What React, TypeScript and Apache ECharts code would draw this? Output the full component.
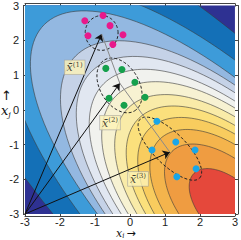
import React, { useEffect, useRef } from "react";
import * as echarts from "echarts";

// axis ticks
const tickValues = [-3, -2, -1, 0, 1, 2, 3];

// contour boundaries (outer -> inner): x where each boundary crosses the anti-diagonal y=-x,
// and x where it crosses the bottom edge y=-3
const levelDiag = [-5.3, -3.04, -2.45, -1.55, -1.1, -0.75, -0.4, -0.05, 0.25, 0.55, 0.85, 1.2, 1.83];
const levelBottom = [-2.2, -1.43, -0.93, -0.71, -0.49, -0.25, -0.05, 0.2, 0.45, 0.7, 1.0, 1.4, 1.97];
const peak = [2.9, -2.9];
const bandColors = [
  "#2e3192", "#1470b7", "#3d9bd9", "#93b8e1", "#c5d2e7", "#e1e7f1", "#f1f2ee",
  "#f7f2d2", "#f9eba8", "#fbe07c", "#f8cc5e", "#f4b44c", "#ef9c41", "#e5483b",
];

// samples
const magentaX = [-1.29, -0.77, -0.57, -1.2, -0.2, -0.49];
const magentaY = [2.56, 2.71, 2.42, 2.13, 2.16, 1.88];
const greenX = [-0.69, -0.23, 0.14, -0.6, -0.17, 0.43];
const greenY = [1.19, 1.16, 0.79, 0.33, 0.13, 0.36];
const cyanX = [0.77, 1.31, 0.63, 1.86, 1.89, 1.34];
const cyanY = [-0.33, -0.93, -1.16, -1.16, -1.7, -1.93];

// means
const meanX = [-0.81, -0.29, 1.14];
const meanY = [2.18, 0.76, -1.22];
const arrowStart = [-3, -3];

// dashed ellipses: centre, semi-axes, rotation (deg)
const ellCX = [-0.81, -0.3, 1.14];
const ellCY = [2.21, 0.7, -1.12];
const ellRA = [0.47, 0.85, 1.2];
const ellRB = [0.5, 0.56, 0.46];
const ellRot = [0, -60, -45];

// label positions
const labelX = [-1.58, -0.57, 0.23];
const labelY = [1.22, -0.37, -1.99];
const labelText = ["(1)", "(2)", "(3)"];

const SQ = Math.SQRT2;

function levelShape(k: number) {
  const A = Math.hypot(peak[0] - levelDiag[k], peak[1] + levelDiag[k]);
  const dx = levelBottom[k] - peak[0];
  const dy = -3 - peak[1];
  const u = (-dx + dy) / SQ;
  const v = (dx + dy) / SQ;
  const B = Math.abs(v) / Math.sqrt(Math.max(0.05, 1 - (u / A) * (u / A)));
  return { A, B };
}

export default function App() {
  const ref = useRef<HTMLDivElement>(null);
  useEffect(() => {
    const chart = echarts.init(ref.current!, null, { renderer: "svg" });
    const axisColor = "#444";
    const mkX = (pos: "bottom" | "top", labels: boolean) => ({
      type: "value",
      min: tickValues[0],
      max: tickValues[tickValues.length - 1],
      interval: 1,
      position: pos,
      offset: 2,
      axisLine: { show: true, onZero: false, lineStyle: { color: axisColor, width: 1 } },
      axisTick: { show: true, inside: true, length: 3, lineStyle: { color: axisColor } },
      axisLabel: {
        show: labels,
        fontSize: 11,
        lineHeight: 10,
        color: "#222",
        margin: 1,
        fontFamily: "Liberation Sans",
      },
      splitLine: { show: false },
    });
    const mkY = (pos: "left" | "right", labels: boolean) => ({
      type: "value",
      min: tickValues[0],
      max: tickValues[tickValues.length - 1],
      interval: 1,
      position: pos,
      offset: pos === "left" ? 2 : 3,
      axisLine: { show: true, onZero: false, lineStyle: { color: axisColor, width: 1 } },
      axisTick: { show: true, inside: true, length: 3, lineStyle: { color: axisColor } },
      axisLabel: {
        show: labels,
        fontSize: 11,
        color: "#222",
        margin: 4,
        fontFamily: "Liberation Sans",
      },
      splitLine: { show: false },
    });

    const contourData = levelDiag.map((_, k) => [0, 0, k]);
    const ellData = ellCX.map((_, i) => [ellCX[i], ellCY[i], i]);

    const option: any = {
      animation: false,
      grid: {
        left: 25,
        top: 5,
        width: 210,
        height: 209,
        show: true,
        backgroundColor: bandColors[0],
        borderWidth: 0,
      },
      xAxis: [mkX("bottom", true), mkX("top", false)],
      yAxis: [mkY("left", true), mkY("right", false)],
      series: [
        {
          type: "custom",
          clip: true,
          silent: true,
          data: contourData,
          renderItem: (params: any, api: any) => {
            const k = api.value(2);
            const { A, B } = levelShape(k);
            const pts: number[][] = [];
            const n = 160;
            for (let i = 0; i < n; i++) {
              const s = (i / n) * Math.PI * 2;
              const a = A * Math.cos(s);
              const b = B * Math.sin(s);
              const x = peak[0] + (-a + b) / SQ;
              const y = peak[1] + (a + b) / SQ;
              pts.push(api.coord([x, y]));
            }
            return {
              type: "polygon",
              shape: { points: pts },
              style: { fill: bandColors[k + 1], stroke: "#3a3a3a", lineWidth: 0.6 },
            };
          },
        },
        {
          type: "custom",
          silent: true,
          data: ellData,
          renderItem: (params: any, api: any) => {
            const i = api.value(2);
            const rot = (ellRot[i] * Math.PI) / 180;
            const pts: number[][] = [];
            const n = 80;
            for (let j = 0; j <= n; j++) {
              const s = (j / n) * Math.PI * 2;
              const a = ellRA[i] * Math.cos(s);
              const b = ellRB[i] * Math.sin(s);
              const x = ellCX[i] + a * Math.cos(rot) - b * Math.sin(rot);
              const y = ellCY[i] + a * Math.sin(rot) + b * Math.cos(rot);
              pts.push(api.coord([x, y]));
            }
            return {
              type: "polyline",
              shape: { points: pts },
              style: { stroke: "#222", lineWidth: 1, lineDash: [3, 2], fill: "none" },
            };
          },
        },
        {
          type: "line",
          data: meanX.map((x, i) => [x, meanY[i]]),
          symbol: "none",
          lineStyle: { color: "#8a8a8a", width: 1 },
          silent: true,
        },
        {
          type: "lines",
          coordinateSystem: "cartesian2d",
          symbol: ["none", "arrow"],
          symbolSize: 7,
          lineStyle: { color: "#111", width: 1, opacity: 1 },
          silent: true,
          data: meanX.map((x, i) => ({ coords: [arrowStart, [x, meanY[i]]] })),
        },
        {
          type: "scatter",
          symbolSize: 7,
          itemStyle: { color: "#e8198b", opacity: 1 },
          data: magentaX.map((x, i) => [x, magentaY[i]]),
          silent: true,
        },
        {
          type: "scatter",
          symbolSize: 7,
          itemStyle: { color: "#15a04c", opacity: 1 },
          data: greenX.map((x, i) => [x, greenY[i]]),
          silent: true,
        },
        {
          type: "scatter",
          symbolSize: 7,
          itemStyle: { color: "#1aa6e8", opacity: 1 },
          data: cyanX.map((x, i) => [x, cyanY[i]]),
          silent: true,
        },
        {
          type: "scatter",
          symbolSize: 2,
          itemStyle: { color: "rgba(0,0,0,0)" },
          silent: true,
          z: 10,
          data: labelX.map((x, i) => ({ value: [x, labelY[i]], name: labelText[i] })),
          label: {
            show: true,
            position: "inside",
            formatter: (p: any) => "{m|x\u0304}{s|" + p.name + "}",
            backgroundColor: "#fcf3b6",
            borderColor: "#a0a0a0",
            borderWidth: 0.6,
            padding: [1, 2, 0, 2],
            rich: {
              m: { fontFamily: "DejaVu Serif", fontStyle: "italic", fontSize: 11, color: "#111" },
              s: { fontFamily: "DejaVu Serif", fontSize: 7, color: "#111", verticalAlign: "top", padding: [0, 0, 6, 0] },
            },
          },
        },
      ],
      graphic: [
        {
          type: "text",
          left: 116,
          top: 228,
          style: {
            text: "{a|x}{b|i}{c|\u2192}",
            rich: {
              a: { fontFamily: "DejaVu Serif", fontStyle: "italic", fontSize: 11, lineHeight: 11, fill: "#111" },
              b: { fontFamily: "DejaVu Serif", fontStyle: "italic", fontSize: 7, lineHeight: 11, fill: "#111", verticalAlign: "bottom", padding: [0, 2, 0, 0] },
              c: { fontFamily: "DejaVu Sans", fontSize: 11, lineHeight: 11, fill: "#111" },
            },
          },
        },
        {
          type: "text",
          left: 1,
          top: 89,
          style: { text: "\u2191", fontFamily: "DejaVu Sans", fontSize: 13, fill: "#111" },
        },
        {
          type: "text",
          left: 1,
          top: 104,
          style: {
            text: "{a|x}{b|j}",
            rich: {
              a: { fontFamily: "DejaVu Serif", fontStyle: "italic", fontSize: 13, fill: "#111" },
              b: { fontFamily: "DejaVu Serif", fontStyle: "italic", fontSize: 8, fill: "#111", padding: [7, 0, 0, 0] },
            },
          },
        },
      ],
    };
    chart.setOption(option);
    return () => chart.dispose();
  }, []);
  return <div ref={ref} style={{ width: 241, height: 240, position: "absolute", left: 0, top: 0 }} />;
}
